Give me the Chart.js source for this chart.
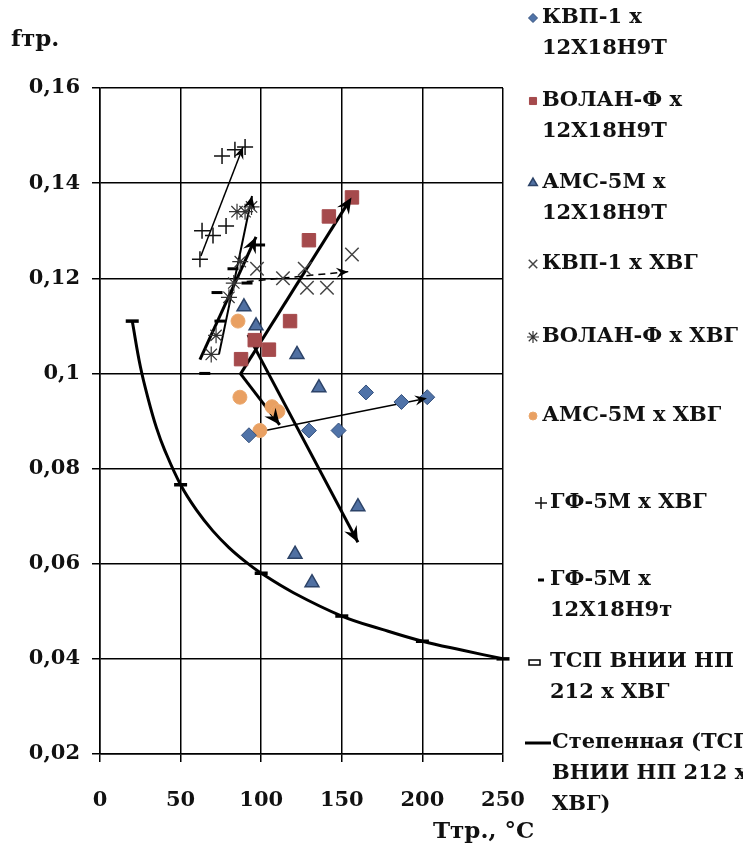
<!DOCTYPE html>
<html>
<head>
<meta charset="utf-8">
<script src="https://cdn.jsdelivr.net/npm/chart.js@4.4.1/dist/chart.umd.min.js"></script>
<style>
    html, body { margin: 0; padding: 0; background: #fff; }
    #wrap { width: 743px; height: 847px; position: relative; }
</style>
</head>
<body>
<div id="wrap"><canvas id="chart"></canvas></div>
<script>
const FONT = '"DejaVu Serif", "Liberation Serif", serif';
const INK = '#111';

// axes
const xRange = [0, 250, 50];
const yRange = [0.02, 0.16, 0.02];

// КВП-1 х 12Х18Н9Т
const kvpStX = [92.4, 129.6, 148, 165, 187, 203];
const kvpStY = [0.087, 0.088, 0.088, 0.096, 0.094, 0.095];
// ВОЛАН-Ф х 12Х18Н9Т
const volStX = [87.5, 96, 104.8, 117.9, 129.6, 142, 156.3];
const volStY = [0.103, 0.107, 0.105, 0.111, 0.128, 0.133, 0.137];
// АМС-5М х 12Х18Н9Т
const amsStX = [89.3, 96.8, 122.2, 135.8, 160, 121, 131.5];
const amsStY = [0.114, 0.110, 0.104, 0.097, 0.072, 0.062, 0.056];
// КВП-1 х ХВГ
const kvpHvX = [97.4, 113.5, 127, 128.4, 140.8, 156.3];
const kvpHvY = [0.122, 0.120, 0.122, 0.118, 0.118, 0.125];
// ВОЛАН-Ф х ХВГ
const volHvX = [69, 72, 80, 83, 87, 85, 90, 94];
const volHvY = [0.104, 0.108, 0.116, 0.119, 0.1235, 0.134, 0.134, 0.135];
// АМС-5М х ХВГ
const amsHvX = [85.6, 86.8, 99.2, 106.7, 110.4];
const amsHvY = [0.111, 0.095, 0.088, 0.093, 0.092];
// ГФ-5М х ХВГ
const gfHvX = [62, 63.3, 70.1, 78.2, 75.7, 83.7, 90];
const gfHvY = [0.124, 0.130, 0.129, 0.131, 0.1457, 0.147, 0.1476];
// ГФ-5М х 12Х18Н9т
const gfStX = [65, 72.6, 74.4, 82.5, 91.2, 99];
const gfStY = [0.100, 0.117, 0.111, 0.122, 0.119, 0.127];
// ТСП ВНИИ НП 212 х ХВГ
const tspX = [20, 50, 100, 150, 200, 250];
const tspY = [0.111, 0.0766, 0.058, 0.049, 0.0437, 0.040];
// Степенная (ТСП ВНИИ НП 212 х ХВГ)
const powX = [20, 25, 30, 35, 40, 50, 60, 70, 80, 90, 100, 120, 150, 175, 200, 225, 250];
const powY = [0.111, 0.1015, 0.0945, 0.0886, 0.084, 0.0766, 0.0712, 0.0669, 0.0634, 0.0605, 0.058, 0.0539, 0.049, 0.0462, 0.0437, 0.0418, 0.040];

// trend arrows: [x0, y0, x1, y1]
const arrKvpSt = [92.4, 0.0873, 202.8, 0.0948];
const arrVolSt = [87, 0.0998, 156, 0.137];
const arrAmsSt = [91.8, 0.1081, 160, 0.0645];
const arrKvpHv = [91, 0.1193, 154, 0.1214];
const arrVolHv = [73.8, 0.104, 94.3, 0.1373];
const arrAmsHv = [87, 0.1, 111.5, 0.0892];
const arrGfHv = [62.6, 0.1247, 88.7, 0.1476];
const arrGfSt = [62, 0.1029, 96.8, 0.1287];

const legendLines = [
    ['КВП-1 х', '12Х18Н9Т'],
    ['ВОЛАН-Ф х', '12Х18Н9Т'],
    ['АМС-5М х', '12Х18Н9Т'],
    ['КВП-1 х ХВГ'],
    ['ВОЛАН-Ф х ХВГ'],
    ['АМС-5М х ХВГ'],
    ['ГФ-5М х ХВГ'],
    ['ГФ-5М х', '12Х18Н9т'],
    ['ТСП ВНИИ НП', '212 х ХВГ'],
    ['Степенная (ТСП', 'ВНИИ НП 212 х', 'ХВГ)']
];
const legendY = [18, 101, 183, 264, 337, 416, 503, 580, 662, 743];

function pts(xs, ys) {
    return xs.map((x, i) => ({ x, y: ys[i] }));
}

function marks(i, xs, ys, style) {
    return Object.assign({
        label: legendLines[i].join(' '),
        data: pts(xs, ys),
        showLine: false,
        clip: 12,
        pointBorderWidth: 1,
        pointHoverRadius: 0
    }, style);
}

function arrow(a, width, head, dash) {
    return {
        label: '',
        data: [{ x: a[0], y: a[1] }, { x: a[2], y: a[3] }],
        showLine: true,
        pointRadius: 0,
        borderColor: '#000',
        borderWidth: width,
        borderCapStyle: 'butt',
        borderDash: dash || [],
        arrow: head
    };
}

const datasets = [
    marks(0, kvpStX, kvpStY, { pointStyle: 'rectRot', pointRadius: 7.5, backgroundColor: '#5073a8', borderColor: '#34507c', legendR: 4.5 }),
    marks(1, volStX, volStY, { pointStyle: 'rect', pointRadius: 9.5, backgroundColor: '#a54a4c', borderColor: '#a54a4c', legendR: 5 }),
    marks(2, amsStX, amsStY, { pointStyle: 'triangle', pointRadius: 8, backgroundColor: '#5070a2', borderColor: '#2c4368', pointBorderWidth: 1.5, legendR: 5 }),
    marks(3, kvpHvX, kvpHvY, { pointStyle: 'crossRot', pointRadius: 9.5, backgroundColor: '#444', borderColor: '#444', pointBorderWidth: 1.5, legendR: 6 }),
    marks(4, volHvX, volHvY, { pointStyle: 'star', pointRadius: 8, backgroundColor: '#333', borderColor: '#333', pointBorderWidth: 1.2, legendR: 6 }),
    marks(5, amsHvX, amsHvY, { pointStyle: 'circle', pointRadius: 7, backgroundColor: '#e9a062', borderColor: '#eaa86e', legendR: 4 }),
    marks(6, gfHvX, gfHvY, { pointStyle: 'cross', pointRadius: 8, backgroundColor: '#111', borderColor: '#111', pointBorderWidth: 1.5, legendR: 6 }),
    marks(7, gfStX, gfStY, { pointStyle: 'line', pointRadius: 5.5, backgroundColor: '#000', borderColor: '#000', pointBorderWidth: 3, legendR: 3 }),
    marks(8, tspX, tspY, { pointStyle: 'line', pointRadius: 6.5, backgroundColor: '#000', borderColor: '#000', pointBorderWidth: 3.5, legendR: 6 }),
    {
        label: legendLines[9].join(' '),
        data: pts(powX, powY),
        showLine: true,
        pointRadius: 0,
        borderColor: '#000',
        borderWidth: 3,
        tension: 0.4,
        legendR: 12
    },
    arrow(arrKvpSt, 1.5, { len: 12, half: 5 }),
    arrow(arrVolSt, 3, { len: 16, half: 7 }),
    arrow(arrAmsSt, 3, { len: 16, half: 7 }),
    arrow(arrKvpHv, 1.5, { len: 12, half: 5 }, [7, 5]),
    arrow(arrVolHv, 2, { len: 13, half: 6 }),
    arrow(arrAmsHv, 3, { len: 16, half: 7 }),
    arrow(arrGfHv, 1.5, { len: 12, half: 5 }),
    arrow(arrGfSt, 3, { len: 16, half: 7 })
];

const arrowHeads = {
    id: 'arrowHeads',
    afterDatasetsDraw(chart) {
        const ctx = chart.ctx;
        chart.data.datasets.forEach((ds, i) => {
            if (!ds.arrow) return;
            const p = chart.getDatasetMeta(i).data;
            const a = p[0], b = p[p.length - 1];
            const ang = Math.atan2(b.y - a.y, b.x - a.x);
            ctx.save();
            ctx.translate(b.x, b.y);
            ctx.rotate(ang);
            ctx.beginPath();
            ctx.moveTo(0, 0);
            ctx.lineTo(-ds.arrow.len, -ds.arrow.half);
            ctx.lineTo(-ds.arrow.len * 0.65, 0);
            ctx.lineTo(-ds.arrow.len, ds.arrow.half);
            ctx.closePath();
            ctx.fillStyle = '#000';
            ctx.fill();
            ctx.restore();
        });
    }
};

const sideLegend = {
    id: 'sideLegend',
    afterDraw(chart) {
        const ctx = chart.ctx;
        ctx.save();
        ctx.font = 'bold 21px ' + FONT;
        ctx.textBaseline = 'middle';
        ctx.textAlign = 'left';
        legendLines.forEach((lines, i) => {
            const ds = chart.data.datasets[i];
            const y = legendY[i];
            const shift = i >= 6 ? 8 : 0;
            const mx = 533 + shift;
            let tx = 542 + shift;
            ctx.fillStyle = ds.backgroundColor;
            ctx.strokeStyle = ds.borderColor;
            if (i === 9) {
                ctx.lineWidth = 3;
                ctx.beginPath();
                ctx.moveTo(525, y);
                ctx.lineTo(551, y);
                ctx.stroke();
                tx = 552;
            } else if (i === 8) {
                ctx.lineWidth = 1.5;
                ctx.fillStyle = '#fff';
                ctx.fillRect(529, y - 2, 11, 5);
                ctx.strokeRect(529, y - 2, 11, 5);
            } else {
                ctx.lineWidth = ds.pointBorderWidth;
                Chart.helpers.drawPoint(ctx, {
                    pointStyle: ds.pointStyle, radius: ds.legendR, rotation: 0, borderWidth: ds.pointBorderWidth
                }, mx, y);
            }
            ctx.fillStyle = INK;
            lines.forEach((t, k) => ctx.fillText(t, tx, y + k * 31));
        });

        // axis titles
        ctx.font = 'bold 23px ' + FONT;
        ctx.textBaseline = 'alphabetic';
        ctx.fillText('fтр.', 11, 46);
        ctx.fillText('Ттр., °С', 433, 838);
        ctx.restore();
    }
};

const tickFont = { family: FONT, size: 21, weight: 'bold' };

new Chart(document.getElementById('chart'), {
    type: 'scatter',
    data: { datasets },
    options: {
        responsive: true,
        maintainAspectRatio: false,
        animation: false,
        events: [],
        layout: { padding: { top: 88, right: 240, left: 0, bottom: 0 } },
        plugins: { legend: { display: false }, tooltip: { enabled: false } },
        scales: {
            x: {
                type: 'linear',
                min: xRange[0],
                max: xRange[1],
                ticks: { stepSize: xRange[2], padding: 26, font: tickFont, color: INK },
                grid: { color: '#000', lineWidth: 1.5, tickLength: 8, tickColor: '#000' },
                border: { color: '#000', width: 1.5 },
                afterFit: s => { s.height = 93; }
            },
            y: {
                type: 'linear',
                min: yRange[0],
                max: yRange[1],
                ticks: {
                    stepSize: yRange[2],
                    padding: 12,
                    font: tickFont,
                    color: INK,
                    callback: v => String(parseFloat(v.toFixed(2))).replace('.', ',')
                },
                grid: { color: '#000', lineWidth: 1.5, tickLength: 8, tickColor: '#000' },
                border: { color: '#000', width: 1.5 },
                afterFit: s => { s.width = 100; }
            }
        }
    },
    plugins: [arrowHeads, sideLegend]
});
</script>
</body>
</html>
